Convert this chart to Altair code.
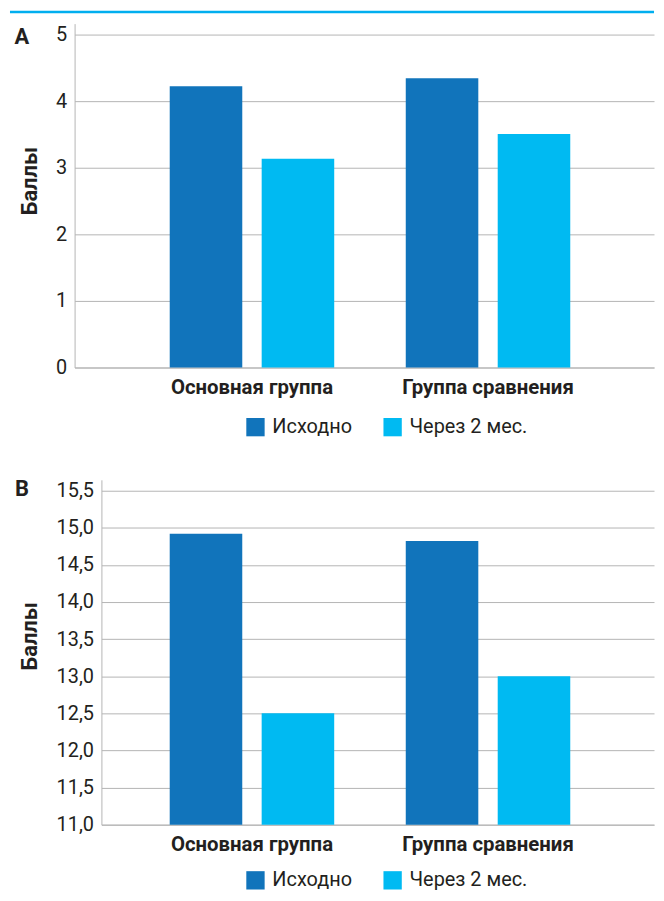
import altair as alt
import pandas as pd

groups = ["Основная группа", "Группа сравнения"]
series = ["Исходно", "Через 2 мес."]
a_initial = [4.23, 4.35]
a_after = [3.14, 3.51]
b_initial = [14.92, 14.82]
b_after = [12.50, 13.00]
a_ticks = [0, 1, 2, 3, 4, 5]
b_ticks = [11.0, 11.5, 12.0, 12.5, 13.0, 13.5, 14.0, 14.5, 15.0, 15.5]
colors = ["#1174BB", "#00BAF2"]

FONT = "Roboto, Liberation Sans Narrow, sans-serif"
TEXT = "#231F20"
GRID = "#B4B4B4"
W = 583


def frame(init, after):
    rows = []
    for g, i, a in zip(groups, init, after):
        rows.append({"group": g, "series": series[0], "value": i})
        rows.append({"group": g, "series": series[1], "value": a})
    return pd.DataFrame(rows)


def panel(df, letter, ticks, domain, base, height, x_start, pad_outer, x_align,
          title_y, letter_y, legend_y, label_expr, top):
    xscale = alt.Scale(range=[x_start, W], paddingInner=0, paddingOuter=pad_outer,
                       align=x_align)
    bars = alt.Chart(df).mark_bar().encode(
        x=alt.X("group:N", sort=groups, scale=xscale,
                axis=alt.Axis(title=None, labelAngle=0, ticks=False, domain=True,
                              domainColor=GRID, labelFont=FONT, labelFontSize=20.5,
                              labelFontWeight="bold", labelColor=TEXT, labelPadding=10,
                              labelLimit=400)),
        xOffset=alt.XOffset("series:N", sort=series,
                            scale=alt.Scale(paddingInner=0.211, paddingOuter=0.389)),
        y=alt.Y("value:Q", scale=alt.Scale(domain=domain, nice=False, zero=False),
                axis=alt.Axis(values=ticks, title="Баллы", labelExpr=label_expr,
                              offset=-x_start, ticks=False, domainColor=GRID,
                              gridColor=GRID, labelFont=FONT, labelFontSize=20,
                              labelColor=TEXT, labelPadding=8, titleFont=FONT,
                              titleFontSize=22, titleFontWeight="bold", titleColor=TEXT,
                              titleAngle=270, titleX=-45 - x_start, titleY=title_y,
                              titleBaseline="middle", titleAlign="center")),
        y2=alt.datum(base),
        color=alt.Color("series:N", sort=series,
                        scale=alt.Scale(domain=series, range=colors),
                        legend=alt.Legend(title=None, orient="none", legendX=172,
                                          legendY=legend_y, direction="horizontal",
                                          symbolType="square", symbolSize=340,
                                          symbolStrokeWidth=0, labelFont=FONT,
                                          labelFontSize=20, labelColor=TEXT,
                                          labelOffset=7, columnPadding=30, padding=0)),
    )
    ldf = pd.DataFrame({"t": [letter]})
    txt = alt.Chart(ldf).mark_text(font=FONT, fontSize=22, fontWeight="bold", color=TEXT,
                                   align="center", baseline="middle").encode(
        text="t:N", x=alt.value(-53), y=alt.value(letter_y))
    layers = [bars, txt]
    if top:
        layers.append(alt.Chart(ldf).mark_rule(color="#00AEEF", strokeWidth=2.5).encode(
            x=alt.value(-65), x2=alt.value(W), y=alt.value(-11.75)))
    else:
        layers.append(alt.Chart(ldf).mark_rule(strokeOpacity=0, opacity=0).encode(
            x=alt.value(0), x2=alt.value(1), y=alt.value(-4)))
    return alt.layer(*layers).properties(width=W, height=height)


A = panel(frame(a_initial, a_after), "A", a_ticks, [0, 5.17], 0, 346,
          0, 0.2274, 0.553, 158, 13, 396, "format(datum.value, 'd')", True)
B = panel(frame(b_initial, b_after), "B", b_ticks, [11, 15.645], 11, 347,
          27, 0.1705, 0.404, 157, 9, 393,
          "replace(format(datum.value, '.1f'), '.', ',')", False)

chart = alt.vconcat(A, B, spacing=39).resolve_legend(color="independent").configure_view(
    strokeWidth=0
).properties(padding={"left": 0, "top": 0, "right": 0, "bottom": 0})

chart.save("out.html", embed_options={"renderer": "svg", "actions": False})
